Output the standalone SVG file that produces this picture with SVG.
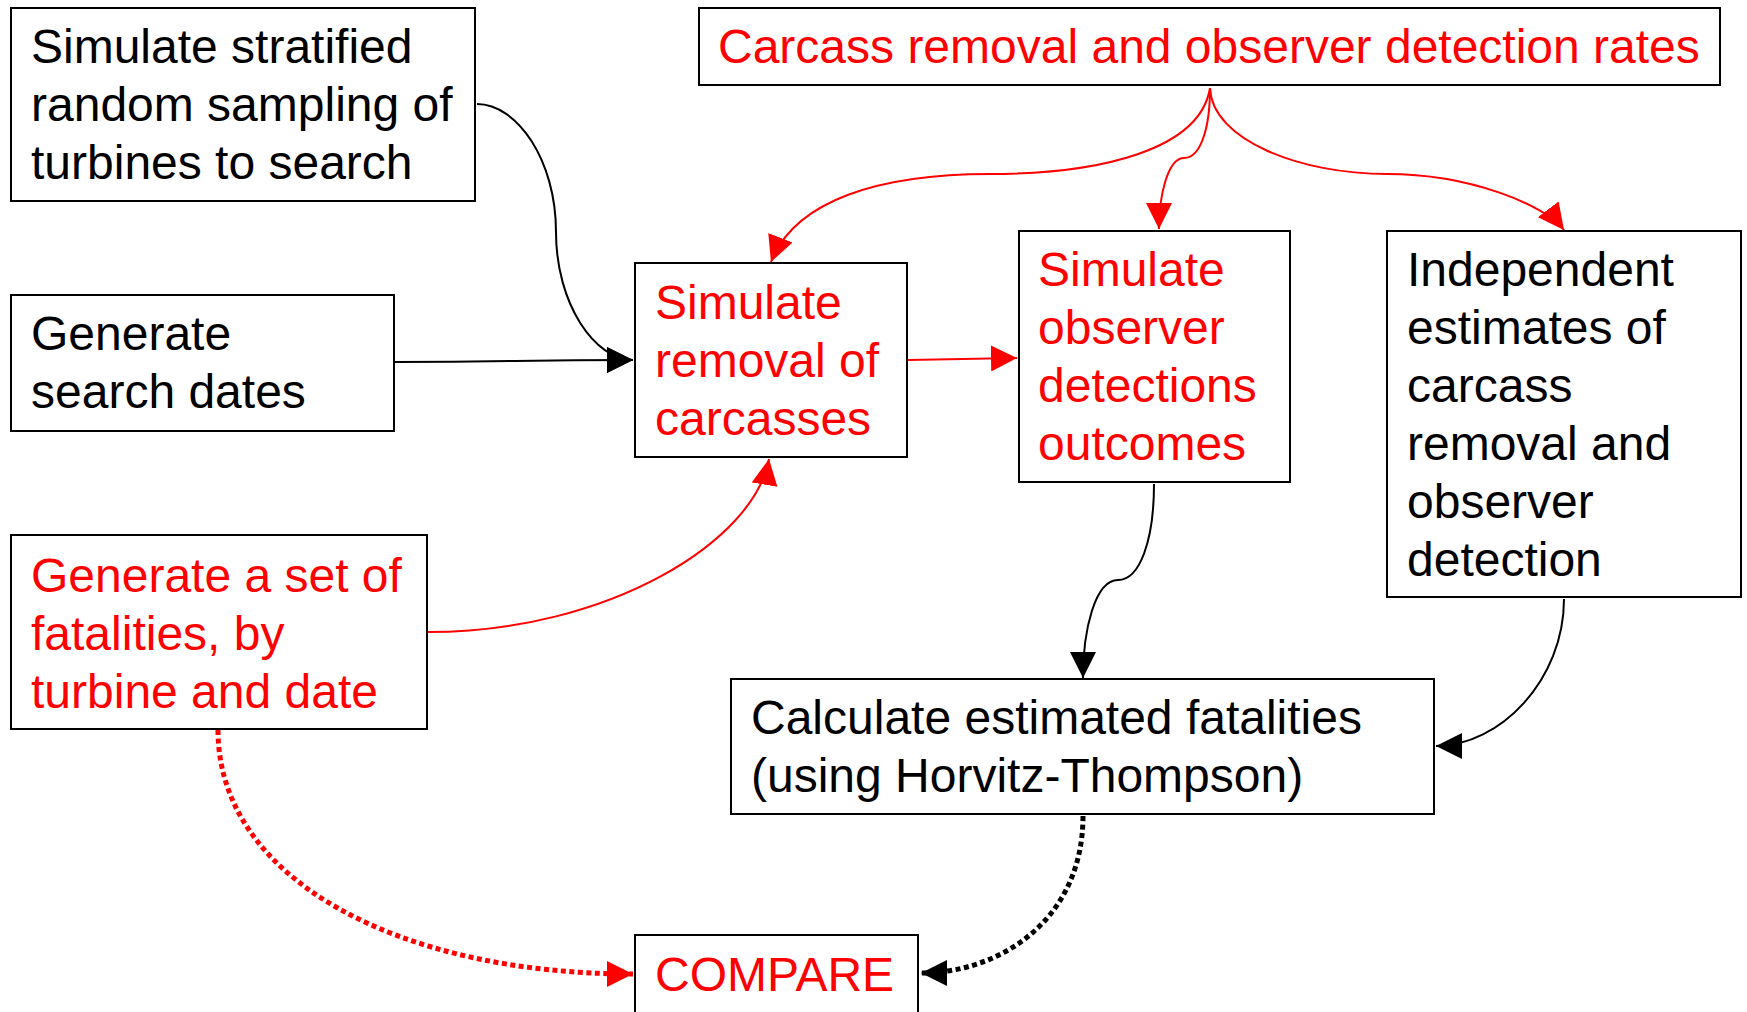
<svg xmlns="http://www.w3.org/2000/svg" width="1747" height="1012" viewBox="0 0 1747 1012">
<style>
.box{fill:#fff;stroke:#000;stroke-width:2}
.t{font-family:"Liberation Sans",Arial,sans-serif;font-size:48px}
.red{fill:#ff0000}
.blk{fill:#000}
.cr{fill:none;stroke:#ff0000;stroke-width:2}
.cb{fill:none;stroke:#000;stroke-width:2}
.dr{fill:none;stroke:#ff0000;stroke-width:5;stroke-dasharray:5 3.5}
.db{fill:none;stroke:#000;stroke-width:5;stroke-dasharray:5 3.5}
</style>
<defs>
<marker id="ar" viewBox="0 0 10 10" refX="10" refY="5" markerUnits="userSpaceOnUse" markerWidth="26" markerHeight="26" orient="auto"><path d="M0,0 L10,5 L0,10 z" fill="#ff0000"/></marker>
<marker id="ab" viewBox="0 0 10 10" refX="10" refY="5" markerUnits="userSpaceOnUse" markerWidth="26" markerHeight="26" orient="auto"><path d="M0,0 L10,5 L0,10 z" fill="#000"/></marker>
</defs>
<rect width="1747" height="1012" fill="#fff"/>
<g id="connectors">
<path class="cb" d="M477,104 C517,104 556,160 556,232 C556,304 595,360 633,360" marker-end="url(#ab)"/>
<path class="cb" d="M395,362 C515,362 515,360 633,360" marker-end="url(#ab)"/>
<path class="cr" d="M428,632 C610,632 755,540 769,459" marker-end="url(#ar)"/>
<path class="cr" d="M1210,88 C1200,150 1100,174 990,174 C880,174 795,200 771,262" marker-end="url(#ar)"/>
<path class="cr" d="M1210,88 C1210,130 1200,158 1184,158 C1168,158 1159,195 1159,229" marker-end="url(#ar)"/>
<path class="cr" d="M1210,88 C1212,140 1300,174 1387,174 C1470,174 1545,205 1564,230" marker-end="url(#ar)"/>
<path class="cr" d="M908,360 L1017,358" marker-end="url(#ar)"/>
<path class="cb" d="M1154,484 C1154,540 1140,580 1118,580 C1095,580 1083,630 1083,678" marker-end="url(#ab)"/>
<path class="cb" d="M1564,599 C1564,680 1500,746 1436,746" marker-end="url(#ab)"/>
<path class="db" d="M1083,816 C1083,920 1000,973 921,973" marker-end="url(#ab)"/>
<path class="dr" d="M218,730 C218,880 400,974 633,974" marker-end="url(#ar)"/>
</g>
<g id="n-sample">
<rect class="box" x="11" y="8" width="464" height="193"/>
<text class="t blk"><tspan x="31" y="63">Simulate stratified</tspan><tspan x="31" y="121">random sampling of</tspan><tspan x="31" y="179">turbines to search</tspan></text>
</g>
<g id="n-dates">
<rect class="box" x="11" y="295" width="383" height="136"/>
<text class="t blk"><tspan x="31" y="350">Generate</tspan><tspan x="31" y="408">search dates</tspan></text>
</g>
<g id="n-fatal">
<rect class="box" x="11" y="535" width="416" height="194"/>
<text class="t red"><tspan x="31" y="592">Generate a set of</tspan><tspan x="31" y="650">fatalities, by</tspan><tspan x="31" y="708">turbine and date</tspan></text>
</g>
<g id="n-rates">
<rect class="box" x="699" y="8" width="1021" height="77"/>
<text class="t red" x="718" y="63">Carcass removal and observer detection rates</text>
</g>
<g id="n-removal">
<rect class="box" x="635" y="263" width="272" height="194"/>
<text class="t red"><tspan x="655" y="319">Simulate</tspan><tspan x="655" y="377">removal of</tspan><tspan x="655" y="435">carcasses</tspan></text>
</g>
<g id="n-observer">
<rect class="box" x="1019" y="231" width="271" height="251"/>
<text class="t red"><tspan x="1038" y="286">Simulate</tspan><tspan x="1038" y="344">observer</tspan><tspan x="1038" y="402">detections</tspan><tspan x="1038" y="460">outcomes</tspan></text>
</g>
<g id="n-indep">
<rect class="box" x="1387" y="231" width="354" height="366"/>
<text class="t blk"><tspan x="1407" y="286">Independent</tspan><tspan x="1407" y="344">estimates of</tspan><tspan x="1407" y="402">carcass</tspan><tspan x="1407" y="460">removal and</tspan><tspan x="1407" y="518">observer</tspan><tspan x="1407" y="576">detection</tspan></text>
</g>
<g id="n-calc">
<rect class="box" x="731" y="679" width="703" height="135"/>
<text class="t blk"><tspan x="751" y="734">Calculate estimated fatalities</tspan><tspan x="751" y="792">(using Horvitz-Thompson)</tspan></text>
</g>
<g id="n-compare">
<rect class="box" x="635" y="935" width="283" height="90"/>
<text class="t red" x="655" y="991">COMPARE</text>
</g>
</svg>
